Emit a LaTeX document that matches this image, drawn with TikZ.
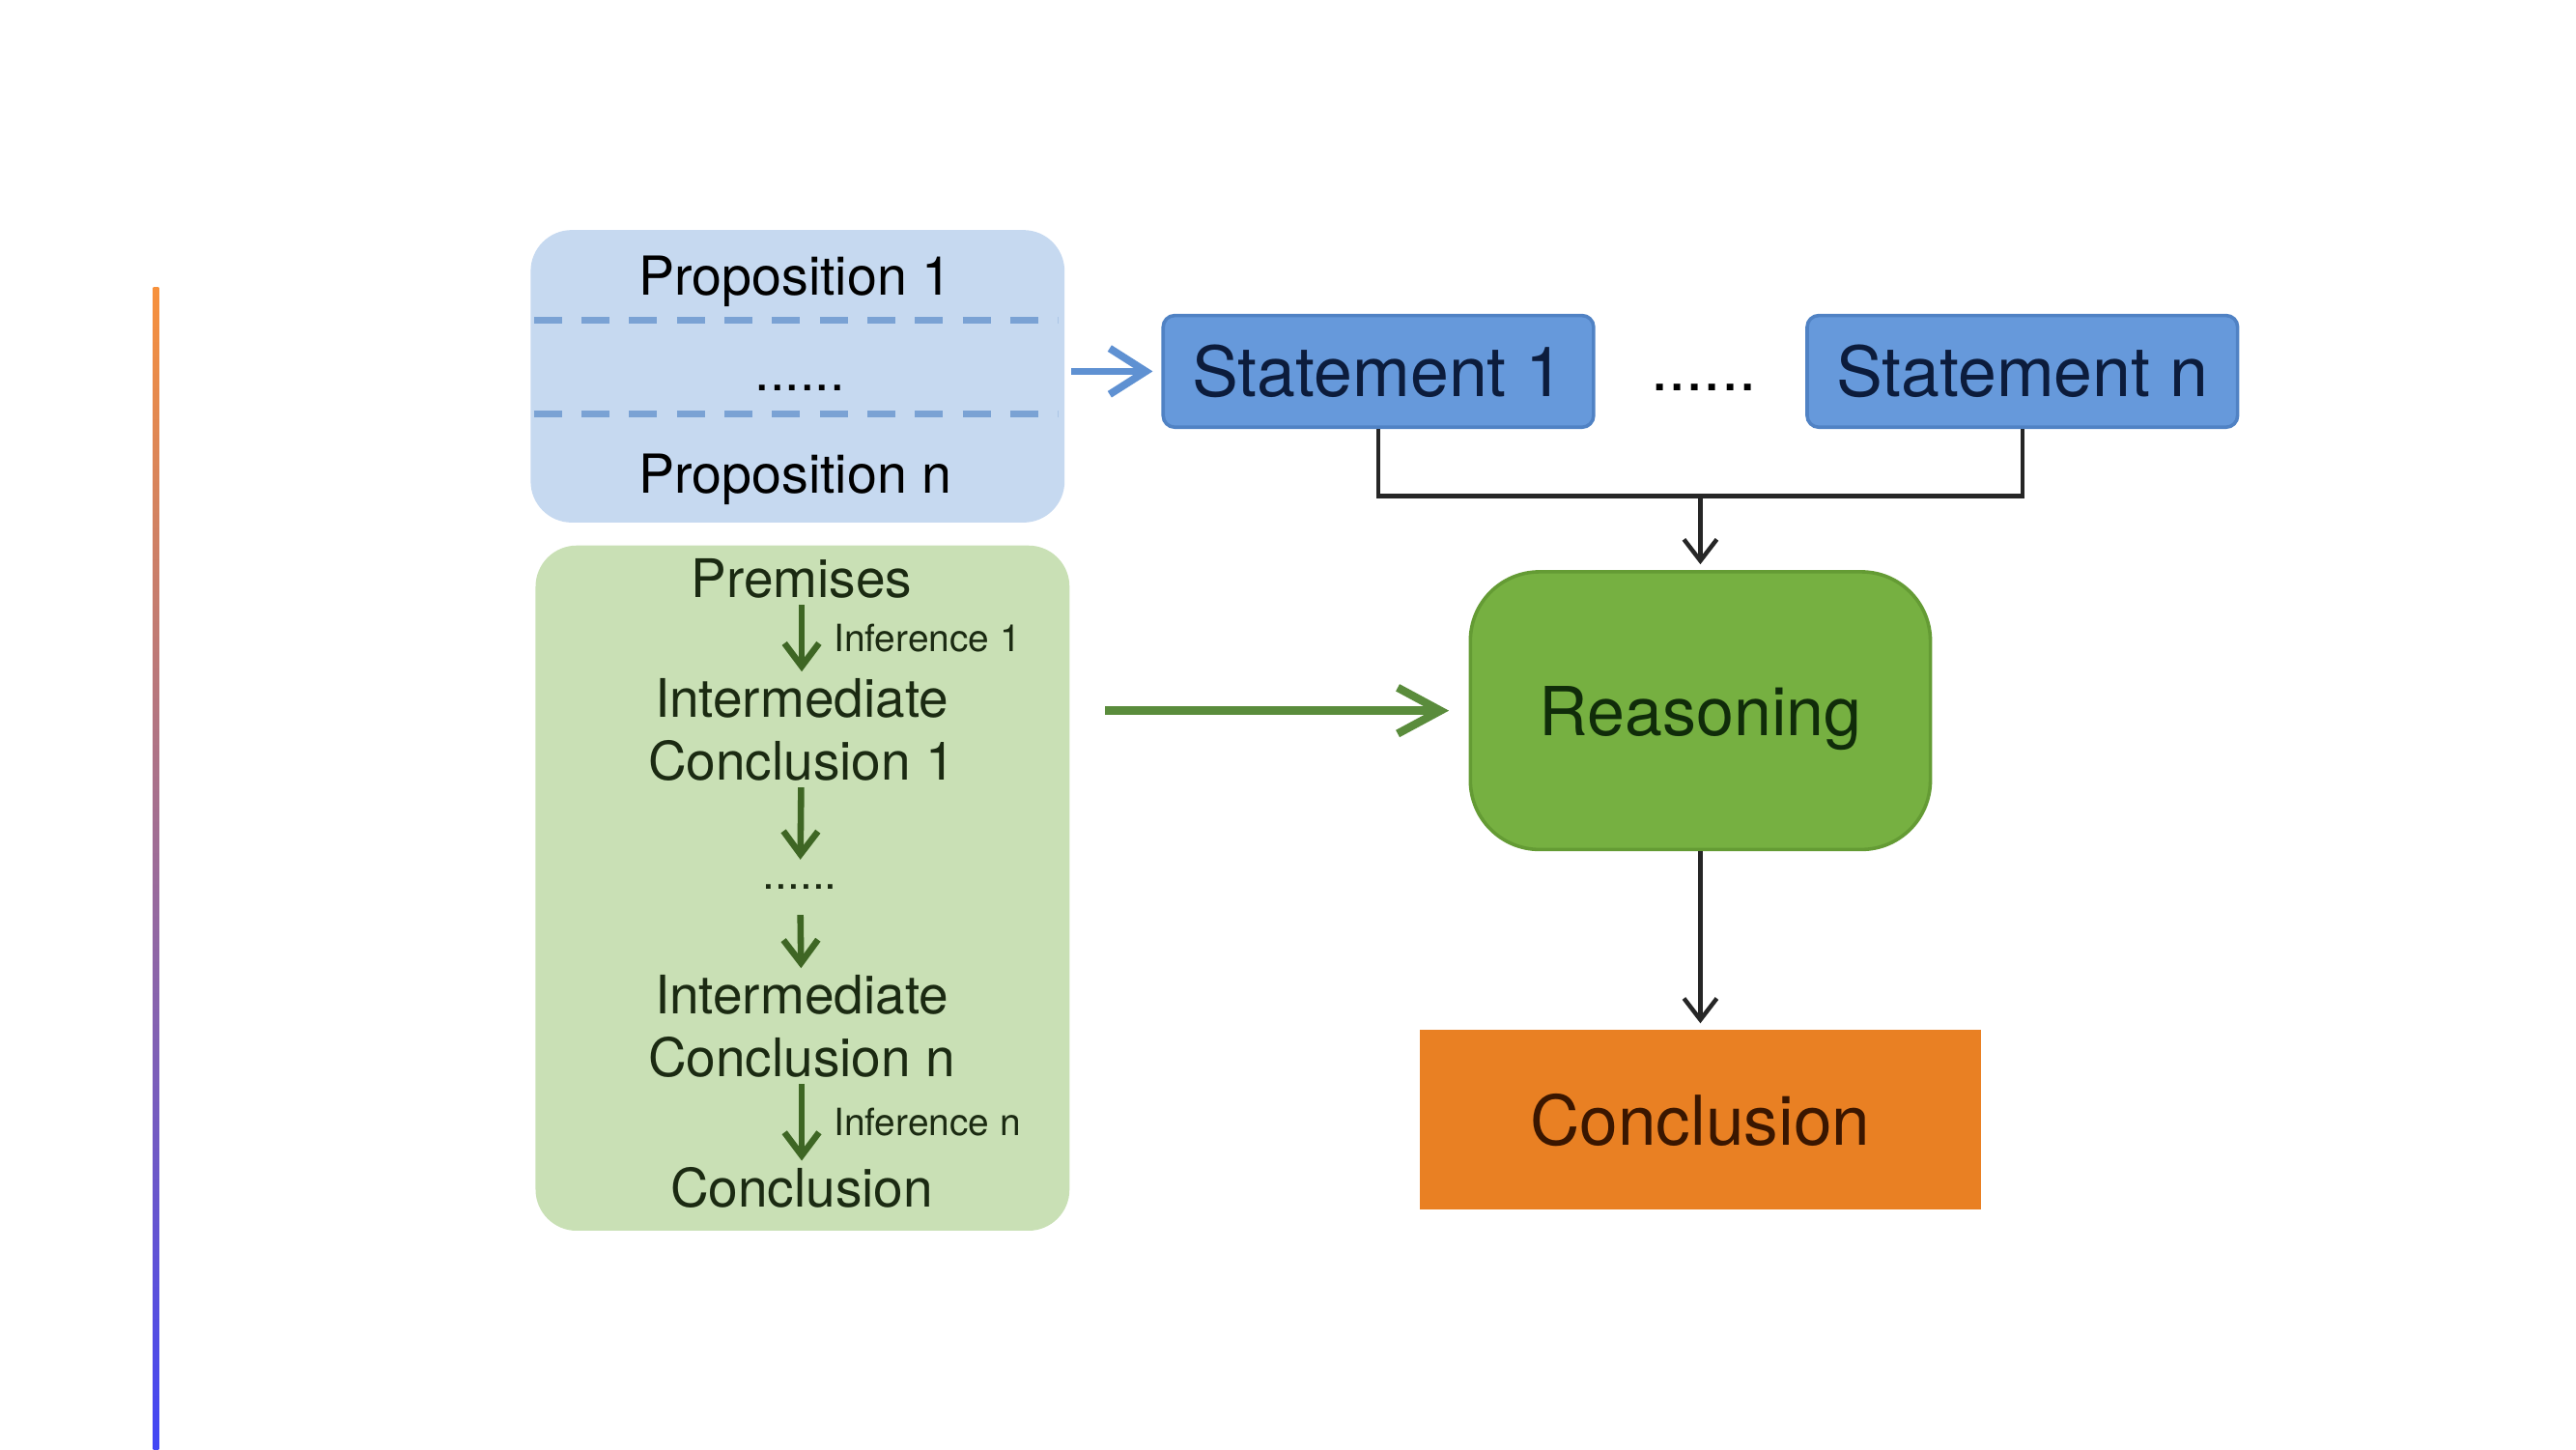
\documentclass[tikz,border=0pt]{standalone}
\usepackage{fontspec}
\setmainfont{TeX Gyre Heros}
\usetikzlibrary{arrows.meta}

\definecolor{barorange}{RGB}{247,145,60}
\definecolor{barblue}{RGB}{65,70,245}
\definecolor{propfill}{RGB}{198,217,240}
\definecolor{propdash}{RGB}{122,162,212}
\definecolor{stmtfill}{RGB}{102,153,219}
\definecolor{stmtdraw}{RGB}{80,130,196}
\definecolor{stmttext}{RGB}{12,28,60}
\definecolor{bluearr}{RGB}{95,145,210}
\definecolor{chainfill}{RGB}{201,224,181}
\definecolor{chaintext}{RGB}{27,42,18}
\definecolor{chainarr}{RGB}{62,102,36}
\definecolor{greenarr}{RGB}{90,140,60}
\definecolor{reasonfill}{RGB}{118,176,65}
\definecolor{reasondraw}{RGB}{100,155,52}
\definecolor{reasontext}{RGB}{16,44,10}
\definecolor{conclfill}{RGB}{233,128,35}
\definecolor{concltext}{RGB}{58,22,0}

\begin{document}
\begin{tikzpicture}[
    % Estilos de las cajas
    propbox/.style={rounded corners=0.25cm, fill=propfill, minimum width=3.25cm, minimum height=1.78cm},
    chainbox/.style={rounded corners=0.25cm, fill=chainfill, minimum width=3.25cm, minimum height=4.17cm},
    stmt/.style={draw=stmtdraw, line width=0.6pt, fill=stmtfill, rounded corners=2pt,
        minimum width=2.62cm, minimum height=0.68cm, text=stmttext, font=\fontsize{12}{14}\selectfont},
    reason/.style={draw=reasondraw, line width=0.6pt, fill=reasonfill, rounded corners=0.42cm,
        minimum width=2.8cm, minimum height=1.69cm, text depth=0pt, text=reasontext, font=\fontsize{11.7}{14}\selectfont},
    concl/.style={fill=conclfill, minimum width=3.42cm, minimum height=1.09cm,
        text=concltext, font=\fontsize{11.9}{14}\selectfont},
    % Estilos de texto
    proptext/.style={inner sep=1pt, font=\fontsize{9.3}{11}\selectfont},
    chaintext/.style={inner sep=1pt, align=center, text=chaintext, font=\fontsize{9.2}{10.8}\selectfont},
    inflabel/.style={inner sep=0pt, text=chaintext, font=\fontsize{6.5}{8}\selectfont},
    % Estilos de líneas
    sepline/.style={propdash, line width=1.1pt, dash pattern=on 0.17cm off 0.12cm},
    link/.style={black!85, line width=0.75pt},
    linkarrow/.style={link, -{Straight Barb[length=1.3mm,width=2mm]}},
    bluearrow/.style={bluearr, line width=1.3pt, -{Straight Barb[length=2.2mm,width=2.8mm]}},
    greenarrow/.style={greenarr, line width=1.4pt, -{Straight Barb[length=2.6mm,width=2.8mm]}},
    steparrow/.style={chainarr, line width=1.1pt, -{Straight Barb[length=1.4mm,width=2.1mm]}}
]

\useasboundingbox (0,0) rectangle (15.68,8.82);

% Barra lateral con degradado
\shade[top color=barorange, bottom color=barblue] (0.933,0) rectangle (0.967,7.07);

% ==========================================
% PROPOSICIONES Y ENUNCIADOS
% ==========================================
\node[propbox] (props) at (4.855,6.53) {};
\draw[sepline] (3.25,6.87) -- (6.44,6.87);
\draw[sepline] (3.25,6.30) -- (6.44,6.30);
\node[proptext] (p1) at (4.84,7.11) {Proposition 1};
\node[proptext] (pdots) at (4.87,6.46) {......};
\node[proptext] (pn) at (4.84,5.90) {Proposition n};

\node[stmt] (s1) at (8.39,6.56) {Statement 1};
\node[font=\fontsize{11}{13}\selectfont] (sdots) at (10.37,6.46) {......};
\node[stmt] (sn) at (12.31,6.56) {Statement n};

\draw[bluearrow, shorten <=1pt, shorten >=1.5pt] (props.east |- s1.west) -- (s1.west);

% ==========================================
% CADENA DE INFERENCIA
% ==========================================
\node[chainbox] (chain) at (4.885,3.415) {};
\node[chaintext] (prem) at (4.88,5.30) {Premises};
\node[chaintext] (ic1) at (4.88,4.38) {Intermediate\\Conclusion 1};
\node[chaintext, inner sep=4.2pt, font=\fontsize{7.7}{9}\selectfont] (cdots) at (4.87,3.42) {......};
\node[chaintext] (icn) at (4.88,2.575) {Intermediate\\Conclusion n};
\node[chaintext] (final) at (4.88,1.59) {Conclusion};

\draw[steparrow] (prem) -- (ic1) node[midway, anchor=west, xshift=5pt, inflabel] {Inference 1};
\draw[steparrow] (ic1) -- (cdots);
\draw[steparrow] (cdots) -- (icn);
\draw[steparrow] (icn) -- (final) node[midway, anchor=west, xshift=5pt, inflabel] {Inference n};

% ==========================================
% RAZONAMIENTO Y CONCLUSIÓN
% ==========================================
\node[reason] (reasoning) at (10.35,4.495) {Reasoning};
\node[concl] (conclusion) at (10.35,2.005) {Conclusion};

\coordinate (join) at (10.35,5.80);
\draw[link] (s1.south) |- (join) -| (sn.south);
\draw[linkarrow, shorten >=1pt] (join) -- (reasoning.north);
\draw[linkarrow, shorten >=1pt] (reasoning.south) -- (conclusion.north);

\draw[greenarrow, shorten <=0.21cm, shorten >=0.12cm] (chain.east |- reasoning.west) -- (reasoning.west);

\end{tikzpicture}
\end{document}
